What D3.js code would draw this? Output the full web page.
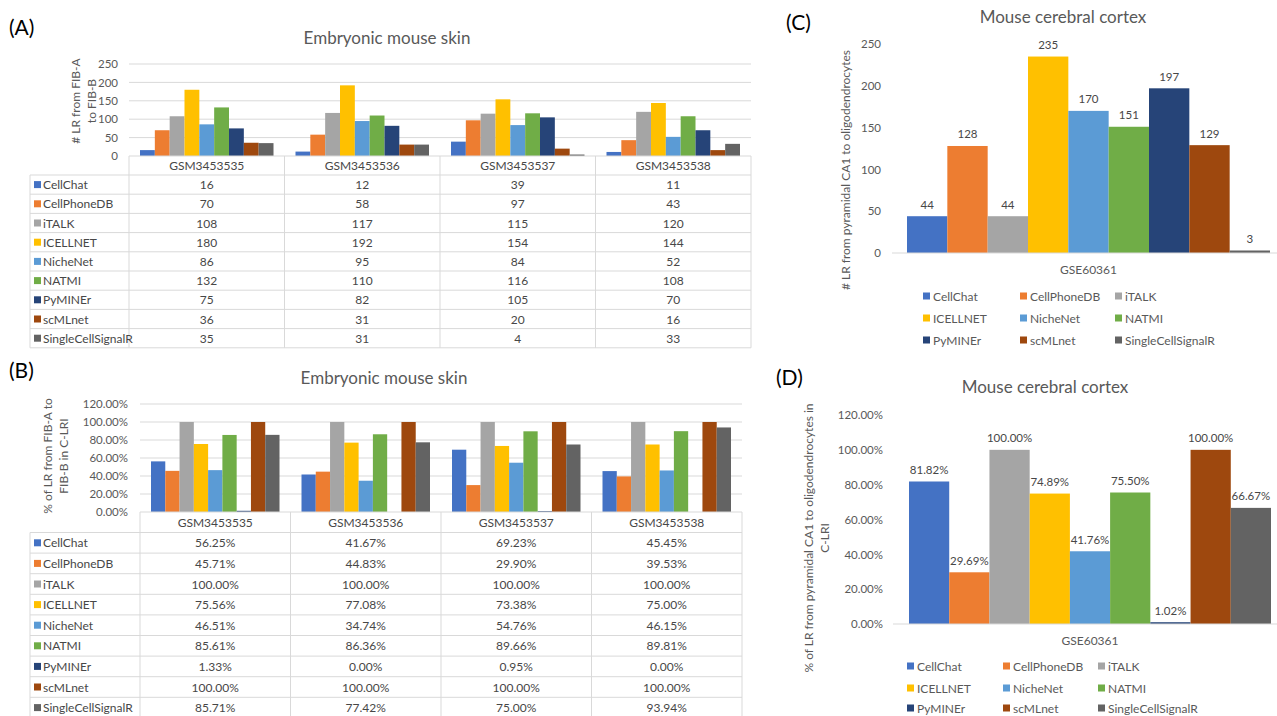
<!DOCTYPE html>
<html>
<head>
<meta charset="utf-8">
<script src="https://cdn.jsdelivr.net/npm/d3@7"></script>
<style>
  body { margin: 0; background: #fff; }
  svg { display: block; font-family: Lato, "Open Sans", sans-serif; }
</style>
</head>
<body>
<svg id="fig" width="1277" height="716"></svg>
<script>
// ---- data ----
const methods = ["CellChat", "CellPhoneDB", "iTALK", "ICELLNET", "NicheNet", "NATMI", "PyMINEr", "scMLnet", "SingleCellSignalR"];
const methodColors = ["#4472C4", "#ED7D31", "#A5A5A5", "#FFC000", "#5B9BD5", "#70AD47", "#264478", "#9E480E", "#636363"];
const samples = ["GSM3453535", "GSM3453536", "GSM3453537", "GSM3453538"];

// number of LR pairs from FIB-A to FIB-B, one array per sample (method order)
const counts535 = [16, 70, 108, 180, 86, 132, 75, 36, 35];
const counts536 = [12, 58, 117, 192, 95, 110, 82, 31, 31];
const counts537 = [39, 97, 115, 154, 84, 116, 105, 20, 4];
const counts538 = [11, 43, 120, 144, 52, 108, 70, 16, 33];

// % of those pairs found in C-LRI
const pct535 = [56.25, 45.71, 100.00, 75.56, 46.51, 85.61, 1.33, 100.00, 85.71];
const pct536 = [41.67, 44.83, 100.00, 77.08, 34.74, 86.36, 0.00, 100.00, 77.42];
const pct537 = [69.23, 29.90, 100.00, 73.38, 54.76, 89.66, 0.95, 100.00, 75.00];
const pct538 = [45.45, 39.53, 100.00, 75.00, 46.15, 89.81, 0.00, 100.00, 93.94];

// mouse cerebral cortex, pyramidal CA1 -> oligodendrocytes
const cortexSample = "GSE60361";
const cortexCounts = [44, 128, 44, 235, 170, 151, 197, 129, 3];
const cortexPct = [81.82, 29.69, 100.00, 74.89, 41.76, 75.50, 1.02, 100.00, 66.67];

const countTicks = [0, 50, 100, 150, 200, 250];
const pctTicks = [0, 20, 40, 60, 80, 100, 120];

// ---- styling ----
const TXT = "#595959";
const TXT_DARK = "#474747";
const GRID = "#D9D9D9";
const FS = 12;          // table / legend text
const FS_TICK = 11.5;   // axis tick labels
const fmtCount = d3.format("d");
const fmtPct = v => d3.format(".2f")(v) + "%";

const svg = d3.select("#fig");
svg.append("rect").attr("width", 1277).attr("height", 716).attr("fill", "#fff");

function panelTag(text, x, y) {
  svg.append("text").attr("x", x).attr("y", y)
    .attr("font-size", 21).attr("fill", "#000").text(text);
}

function title(text, x, y) {
  svg.append("text").attr("x", x).attr("y", y).attr("text-anchor", "middle")
    .attr("font-size", 17).attr("fill", TXT).text(text);
}

function yLabel(lines, xs, cy) {
  lines.forEach((ln, i) => {
    svg.append("text")
      .attr("transform", `translate(${xs[i]},${cy}) rotate(-90)`)
      .attr("text-anchor", "middle").attr("dominant-baseline", "central")
      .attr("font-size", 12).attr("fill", TXT).text(ln);
  });
}

// Clustered column chart with an attached data table (skin panels)
function skinPanel(cfg) {
  const g = svg.append("g");
  const x0 = d3.scaleBand().domain(samples).range([cfg.plotL, cfg.plotR]);
  const x1 = d3.scaleBand().domain(methods).range([cfg.gap, x0.bandwidth() - cfg.gap]);
  const y = d3.scaleLinear().domain([0, d3.max(cfg.ticks)]).range([cfg.yZero, cfg.yTop]);

  // gridlines
  g.append("g").selectAll("line").data(cfg.ticks.filter(t => t > 0)).join("line")
    .attr("x1", cfg.plotL).attr("x2", cfg.plotR)
    .attr("y1", d => y(d)).attr("y2", d => y(d))
    .attr("stroke", GRID).attr("stroke-width", 1);

  // value axis labels
  const ax = g.append("g").attr("transform", `translate(${cfg.plotL},0)`)
    .call(d3.axisLeft(y).tickValues(cfg.ticks).tickFormat(cfg.fmtTick).tickSize(0).tickPadding(cfg.plotL - cfg.tickX));
  ax.select(".domain").remove();
  ax.selectAll("text").attr("font-size", FS_TICK).attr("fill", TXT).attr("font-family", "Lato, sans-serif");

  // bars
  cfg.series.forEach((vals, si) => {
    g.append("g").selectAll("rect").data(vals).join("rect")
      .attr("x", (d, j) => x0(samples[si]) + x1(methods[j]))
      .attr("y", d => y(d))
      .attr("width", x1.bandwidth())
      .attr("height", d => cfg.yZero - y(d))
      .attr("fill", (d, j) => methodColors[j]);
  });

  // data table
  const tTop = cfg.yZero;
  const hBot = tTop + cfg.headerH;
  const tBot = hBot + cfg.rowH * methods.length;
  const t = g.append("g").attr("stroke", GRID).attr("stroke-width", 1);
  t.append("line").attr("x1", cfg.plotL).attr("x2", cfg.plotR).attr("y1", tTop).attr("y2", tTop);
  d3.range(methods.length + 1).forEach(i => {
    const yy = hBot + i * cfg.rowH;
    t.append("line").attr("x1", cfg.labelL).attr("x2", cfg.plotR).attr("y1", yy).attr("y2", yy);
  });
  t.append("line").attr("x1", cfg.labelL).attr("x2", cfg.labelL).attr("y1", hBot).attr("y2", tBot);
  samples.concat(["end"]).forEach((s, i) => {
    const xx = i < samples.length ? x0(s) : cfg.plotR;
    t.append("line").attr("x1", xx).attr("x2", xx).attr("y1", tTop).attr("y2", tBot);
  });

  // header
  g.append("g").selectAll("text").data(samples).join("text")
    .attr("x", d => x0(d) + x0.bandwidth() / 2)
    .attr("y", tTop + cfg.headerH / 2)
    .attr("dominant-baseline", "central").attr("text-anchor", "middle")
    .attr("font-size", FS).attr("fill", TXT_DARK).text(d => d);

  // rows
  methods.forEach((m, j) => {
    const cy = hBot + (j + 0.5) * cfg.rowH;
    g.append("rect").attr("x", cfg.labelL + 4).attr("y", cy - 3.5).attr("width", 7).attr("height", 7)
      .attr("fill", methodColors[j]);
    g.append("text").attr("x", cfg.labelL + 13).attr("y", cy)
      .attr("dominant-baseline", "central").attr("font-size", FS).attr("fill", TXT_DARK).text(m);
    cfg.series.forEach((vals, si) => {
      g.append("text").attr("x", x0(samples[si]) + x0.bandwidth() / 2).attr("y", cy)
        .attr("dominant-baseline", "central").attr("text-anchor", "middle")
        .attr("font-size", FS).attr("fill", TXT_DARK).text(cfg.fmtCell(vals[j]));
    });
  });
}

// Single-category column chart with value labels and a legend (cortex panels)
function cortexPanel(cfg) {
  const g = svg.append("g");
  const x0 = d3.scaleBand().domain([cortexSample]).range([cfg.plotL, cfg.plotR]);
  const x1 = d3.scaleBand().domain(methods).range([cfg.gap, x0.bandwidth() - cfg.gap]);
  const y = d3.scaleLinear().domain([0, d3.max(cfg.ticks)]).range([cfg.yZero, cfg.yTop]);

  const ax = g.append("g").attr("transform", `translate(${cfg.plotL},0)`)
    .call(d3.axisLeft(y).tickValues(cfg.ticks).tickFormat(cfg.fmtTick).tickSize(0).tickPadding(cfg.plotL - cfg.tickX));
  ax.select(".domain").remove();
  ax.selectAll("text").attr("font-size", FS_TICK).attr("fill", TXT).attr("font-family", "Lato, sans-serif");

  g.append("g").selectAll("rect").data(cfg.values).join("rect")
    .attr("x", (d, j) => x0(cortexSample) + x1(methods[j]))
    .attr("y", d => y(d))
    .attr("width", x1.bandwidth())
    .attr("height", d => cfg.yZero - y(d))
    .attr("fill", (d, j) => methodColors[j]);

  g.append("line").attr("x1", cfg.plotL).attr("x2", cfg.plotR)
    .attr("y1", cfg.yZero).attr("y2", cfg.yZero).attr("stroke", GRID);

  g.append("g").selectAll("text").data(cfg.values).join("text")
    .attr("x", (d, j) => x0(cortexSample) + x1(methods[j]) + x1.bandwidth() / 2)
    .attr("y", d => y(d) - 12)
    .attr("dominant-baseline", "central").attr("text-anchor", "middle")
    .attr("font-size", 11.5).attr("fill", TXT_DARK).text(d => cfg.fmtLabel(d));

  g.append("text").attr("x", x0(cortexSample) + x0.bandwidth() / 2).attr("y", cfg.catY)
    .attr("dominant-baseline", "central").attr("text-anchor", "middle")
    .attr("font-size", FS).attr("fill", TXT).text(cortexSample);

  // legend, 3 x 3
  methods.forEach((m, j) => {
    const lx = cfg.legX[j % 3], ly = cfg.legY[Math.floor(j / 3)];
    g.append("rect").attr("x", lx).attr("y", ly - 3.5).attr("width", 7).attr("height", 7).attr("fill", methodColors[j]);
    g.append("text").attr("x", lx + 10).attr("y", ly).attr("dominant-baseline", "central")
      .attr("font-size", FS).attr("fill", TXT).text(m);
  });
}

// (A) counts, embryonic mouse skin
panelTag("(A)", 9, 35);
title("Embryonic mouse skin", 387, 44);
yLabel(["# LR from FIB-A", "to FIB-B"], [75, 91], 101);
skinPanel({
  series: [counts535, counts536, counts537, counts538],
  ticks: countTicks, fmtTick: fmtCount, fmtCell: fmtCount,
  plotL: 129, plotR: 751, yTop: 64, yZero: 156, tickX: 118, gap: 11,
  labelL: 30, headerH: 19, rowH: 19.2
});

// (B) percentages, embryonic mouse skin
panelTag("(B)", 9, 378);
title("Embryonic mouse skin", 384, 384);
yLabel(["% of LR from FIB-A to", "FIB-B in C-LRI"], [47, 63], 456);
skinPanel({
  series: [pct535, pct536, pct537, pct538],
  ticks: pctTicks, fmtTick: fmtPct, fmtCell: fmtPct,
  plotL: 140, plotR: 742, yTop: 404, yZero: 512, tickX: 128, gap: 11,
  labelL: 30, headerH: 20.5, rowH: 20.6
});

// (C) counts, mouse cerebral cortex
panelTag("(C)", 786, 30);
title("Mouse cerebral cortex", 1063, 23);
yLabel(["# LR from pyramidal CA1 to oligodendrocytes"], [845], 170);
cortexPanel({
  values: cortexCounts, ticks: countTicks, fmtTick: fmtCount, fmtLabel: fmtCount,
  plotL: 892, plotR: 1285, yTop: 44, yZero: 253, tickX: 881, gap: 15,
  catY: 269, legX: [923, 1020, 1115], legY: [296, 318, 340]
});

// (D) percentages, mouse cerebral cortex
panelTag("(D)", 776, 385);
title("Mouse cerebral cortex", 1045, 393);
yLabel(["% of LR from pyramidal CA1 to oligodendrocytes in", "C-LRI"], [808, 824], 538);
cortexPanel({
  values: cortexPct, ticks: pctTicks, fmtTick: fmtPct, fmtLabel: fmtPct,
  plotL: 893, plotR: 1287, yTop: 415, yZero: 624, tickX: 883, gap: 16,
  catY: 640, legX: [907, 1003, 1098], legY: [666, 688, 708]
});
</script>
</body>
</html>
